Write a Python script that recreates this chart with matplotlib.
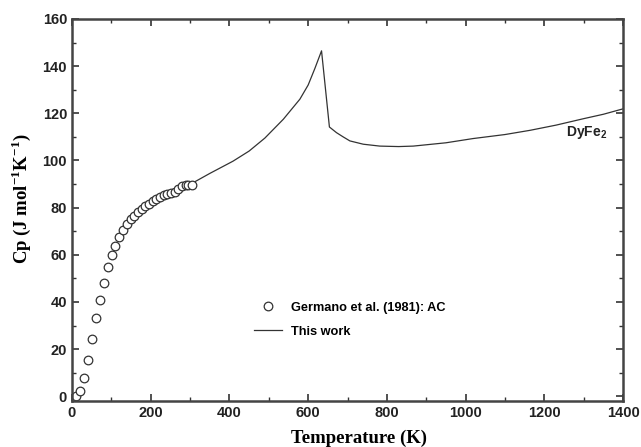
# Cp of DyFe2: literature points vs. computed curve
import matplotlib
matplotlib.use("Agg")
import matplotlib.pyplot as plt
from matplotlib.ticker import MultipleLocator

plt.rcParams["mathtext.fontset"] = "custom"
plt.rcParams["mathtext.rm"] = "Liberation Serif:bold"
plt.rcParams["mathtext.sf"] = "Liberation Sans:bold"

# Germano et al. (1981) adiabatic calorimetry points
exp_T = [10, 20, 30.5, 40.6, 51, 61, 70.3, 80.5, 90.6, 100.5, 110.5, 120, 130, 139.7,
         149, 158.4, 167.7, 177.8, 186.4, 195.6, 205, 214, 223.6, 233.7, 242, 252,
         261, 270, 279, 288.8, 296, 305]
exp_Cp = [0.0, 2.4, 7.7, 15.4, 24.3, 33.0, 41.0, 48.2, 54.7, 59.9, 63.8, 67.4, 70.4,
          73.0, 75.1, 76.5, 78.0, 79.6, 80.7, 81.7, 82.8, 83.8, 84.6, 85.3, 85.9, 86.3,
          86.8, 88.1, 89.0, 89.8, 89.8, 89.5]

# this work (computed)
calc_T = [298, 307, 350, 409, 450, 490, 537, 579, 600, 617, 634, 654, 672, 689, 706,
          740, 782, 830, 867, 950, 1019, 1100, 1164, 1230, 1299, 1350, 1400]
calc_Cp = [90.0, 90.5, 94.5, 99.7, 104.0, 109.5, 117.5, 126.0, 132.0, 139.0, 146.5,
           114.2, 111.8, 110.0, 108.3, 106.9, 106.1, 105.9, 106.1, 107.5, 109.3, 111.0,
           112.8, 115.0, 117.7, 119.6, 121.9]

fig = plt.figure(figsize=(6.41, 4.47), dpi=100)
ax = fig.add_axes([0.1123, 0.1029, 0.8597, 0.8546])

ax.plot(calc_T, calc_Cp, color="#333333", lw=0.9, label="This work")
ax.plot(exp_T, exp_Cp, ls="none", marker="o", ms=6.2, mfc="white", mec="#333333",
        mew=0.9, label="Germano et al. (1981): AC")

ax.set_xlim(0, 1400)
ax.set_ylim(-2, 160)
ax.xaxis.set_major_locator(MultipleLocator(200))
ax.xaxis.set_minor_locator(MultipleLocator(100))
ax.yaxis.set_major_locator(MultipleLocator(20))
ax.yaxis.set_minor_locator(MultipleLocator(10))
ax.set_yticks(range(0, 161, 20))

ax.tick_params(which="both", direction="in", top=True, right=True, color="#333333")
ax.tick_params(which="major", length=5, width=1.2)
ax.tick_params(which="minor", length=3, width=1.0)
for lab in ax.get_xticklabels() + ax.get_yticklabels():
    lab.set_fontfamily("Liberation Sans")
    lab.set_fontweight("bold")
    lab.set_fontsize(10.5)
    lab.set_color("#222222")
for sp in ax.spines.values():
    sp.set_linewidth(1.8)
    sp.set_color("#444444")

ax.set_xlabel("Temperature (K)", family="Liberation Serif", weight="bold",
              fontsize=13.5)
ax.xaxis.set_label_coords(0.52, -0.075)
ax.set_ylabel("Cp (J mol$^{-1}$K$^{-1}$)", family="Liberation Serif",
              weight="bold", fontsize=13.5)
ax.yaxis.set_label_coords(-0.07, 0.53)

ax.text(1255, 112, "DyFe$_\\mathsf{2}$", family="Liberation Sans", weight="bold",
        fontsize=10, va="center", color="#222222")

handles, labels = ax.get_legend_handles_labels()
leg = ax.legend(handles[::-1], labels[::-1], loc="lower left",
                bbox_to_anchor=(0.31, 0.135), frameon=False, handlelength=2.2,
                handletextpad=0.7, labelspacing=0.95,
                prop={"family": "Liberation Sans", "weight": "bold", "size": 9.2})

fig.savefig("out.png", dpi=100)
